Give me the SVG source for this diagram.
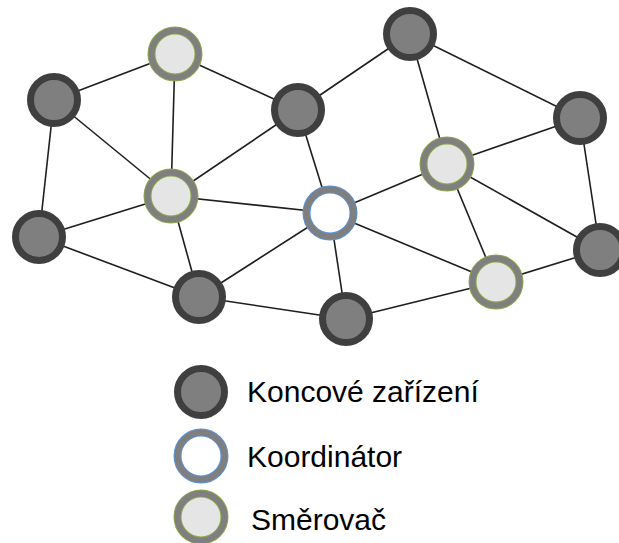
<svg xmlns="http://www.w3.org/2000/svg" width="619" height="543" viewBox="0 0 619 543">
<style>
.e line{stroke:#1e1e1e;stroke-width:1.6}
.dark{fill:#7f7f7f;stroke:#3f3f3f;stroke-width:7}
.rimg{fill:#e5e5e5;stroke:#8ea84a;stroke-width:8}
.light{fill:none;stroke:#7f7f7f;stroke-width:6}
.rimb{fill:#fff;stroke:#5b93dc;stroke-width:8}
.coord{fill:none;stroke:#7f7f7f;stroke-width:6}
text{font-family:"Liberation Sans",Arial,sans-serif;font-size:30px;fill:#000}
</style>
<rect width="619" height="543" fill="#fff"/>
<g class="e" id="connectors">
<line x1="54" y1="100" x2="175" y2="54"/>
<line x1="175" y1="54" x2="298" y2="110"/>
<line x1="175" y1="54" x2="171" y2="196"/>
<line x1="54" y1="100" x2="171" y2="196"/>
<line x1="54" y1="100" x2="39" y2="237"/>
<line x1="39" y1="237" x2="171" y2="196"/>
<line x1="298" y1="110" x2="171" y2="196"/>
<line x1="171" y1="196" x2="330" y2="213"/>
<line x1="171" y1="196" x2="199" y2="297"/>
<line x1="39" y1="237" x2="199" y2="297"/>
<line x1="199" y1="297" x2="330" y2="213"/>
<line x1="199" y1="297" x2="346" y2="319"/>
<line x1="298" y1="110" x2="330" y2="213"/>
<line x1="298" y1="110" x2="410" y2="34"/>
<line x1="410" y1="34" x2="580" y2="118"/>
<line x1="410" y1="34" x2="447" y2="164"/>
<line x1="580" y1="118" x2="447" y2="164"/>
<line x1="580" y1="118" x2="600" y2="250"/>
<line x1="447" y1="164" x2="330" y2="213"/>
<line x1="447" y1="164" x2="496" y2="282"/>
<line x1="447" y1="164" x2="600" y2="250"/>
<line x1="330" y1="213" x2="496" y2="282"/>
<line x1="330" y1="213" x2="346" y2="319"/>
<line x1="346" y1="319" x2="496" y2="282"/>
<line x1="496" y1="282" x2="600" y2="250"/>
</g>
<g id="n1"><circle class="dark" cx="54" cy="100" r="23.5"/></g>
<g id="n2"><circle class="rimg" cx="175" cy="54" r="23.5"/><circle class="light" cx="175" cy="54" r="23.5"/></g>
<g id="n3"><circle class="dark" cx="298" cy="110" r="23.5"/></g>
<g id="n4"><circle class="dark" cx="410" cy="34" r="23.5"/></g>
<g id="n5"><circle class="dark" cx="580" cy="118" r="23.5"/></g>
<g id="n6"><circle class="rimg" cx="447" cy="164" r="23.5"/><circle class="light" cx="447" cy="164" r="23.5"/></g>
<g id="n7"><circle class="rimg" cx="171" cy="196" r="23.5"/><circle class="light" cx="171" cy="196" r="23.5"/></g>
<g id="n8"><circle class="rimb" cx="330" cy="213" r="23.5"/><circle class="coord" cx="330" cy="213" r="23.5"/></g>
<g id="n9"><circle class="dark" cx="39" cy="237" r="23.5"/></g>
<g id="n10"><circle class="dark" cx="199" cy="297" r="23.5"/></g>
<g id="n11"><circle class="dark" cx="346" cy="319" r="23.5"/></g>
<g id="n12"><circle class="rimg" cx="496" cy="282" r="23.5"/><circle class="light" cx="496" cy="282" r="23.5"/></g>
<g id="n13"><circle class="dark" cx="600" cy="250" r="23.5"/></g>
<g id="legend">
<circle class="dark" cx="201" cy="392" r="23.5"/>
<text x="247" y="402">Koncové zařízení</text>
<circle class="rimb" cx="201" cy="456" r="23.5"/><circle class="coord" cx="201" cy="456" r="23.5"/>
<text x="247" y="467">Koordinátor</text>
<circle class="rimg" cx="201" cy="517" r="23.5"/><circle class="light" cx="201" cy="517" r="23.5"/>
<text x="251" y="530">Směrovač</text>
</g>
</svg>
